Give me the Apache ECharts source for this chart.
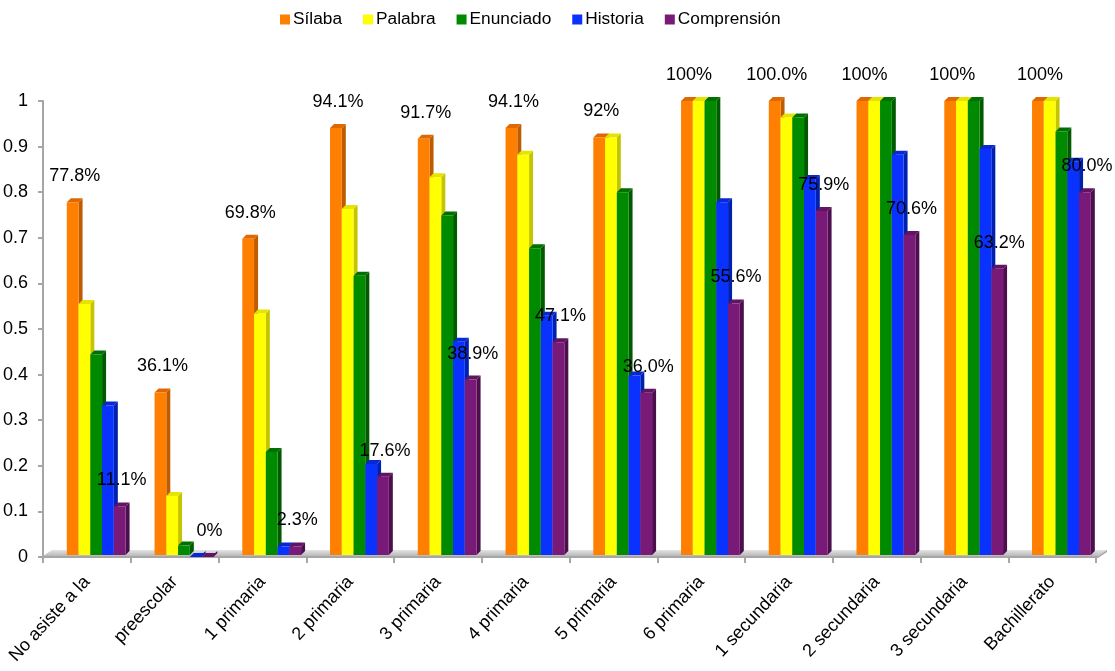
<!DOCTYPE html>
<html>
<head>
<meta charset="utf-8">
<script src="https://cdn.jsdelivr.net/npm/echarts@6/dist/echarts.min.js"></script>
<style>
html,body{margin:0;padding:0;background:#fff;}
#chart{width:1115px;height:671px;}
</style>
</head>
<body>
<div id="chart"></div>
<script>
const categories = ['No asiste a la','preescolar','1 primaria','2 primaria','3 primaria','4 primaria','5 primaria','6 primaria','1 secundaria','2 secundaria','3 secundaria','Bachillerato'];
const seriesNames = ['Sílaba','Palabra','Enunciado','Historia','Comprensión'];
const silaba      = [0.778,0.361,0.698,0.941,0.917,0.941,0.920,1.000,1.000,1.000,1.000,1.000];
const palabra     = [0.555,0.134,0.534,0.763,0.833,0.882,0.920,1.000,0.964,1.000,1.000,1.000];
const enunciado   = [0.444,0.025,0.230,0.617,0.749,0.677,0.800,1.000,0.964,1.000,1.000,0.933];
const historia    = [0.332,0.000,0.023,0.204,0.472,0.529,0.398,0.778,0.829,0.882,0.895,0.867];
const comprension = [0.111,0.000,0.023,0.176,0.389,0.471,0.360,0.556,0.759,0.706,0.632,0.800];
const silabaLabels      = ['77.8%','36.1%','69.8%','94.1%','91.7%','94.1%','92%','100%','100.0%','100%','100%','100%'];
const comprensionLabels = ['11.1%','0%','2.3%','17.6%','38.9%','47.1%','36.0%','55.6%','75.9%','70.6%','63.2%','80.0%'];
const yTicks = [0,0.1,0.2,0.3,0.4,0.5,0.6,0.7,0.8,0.9,1];

const frontColors = ['#FF7F00','#FFFF00','#008A00','#0A32FF','#7A1A78'];
const sideColors  = ['#C05C00','#C4C400','#005A00','#0020B0','#4C0E4C'];
const capColors   = ['#E06800','#E4E400','#007000','#0828D8','#621462'];

const FONT = '"Liberation Sans", Arial, sans-serif';

function makeRender(s, labels) {
  return function (params, api) {
    const idx = api.value(0);
    const v = api.value(1);
    const top = api.coord([idx, v]);
    const base = api.coord([idx, 0]);
    const bw = api.size([1, 0])[0];
    const w = bw * 0.134;
    const left = base[0] - bw * 0.229 + s * w;
    const dx = 4, dy = 4;
    const yTop = top[1];
    const yBot = base[1] - 2;
    const children = [
      {type: 'polygon', shape: {points: [[left + w, yTop], [left + w + dx, yTop - dy], [left + w + dx, yBot - dy], [left + w, yBot]]}, style: {fill: sideColors[s]}},
      {type: 'polygon', shape: {points: [[left, yTop], [left + dx, yTop - dy], [left + w + dx, yTop - dy], [left + w, yTop]]}, style: {fill: capColors[s]}},
      {type: 'rect', shape: {x: left, y: yTop, width: w, height: Math.max(0, yBot - yTop)}, style: {fill: frontColors[s]}}
    ];
    if (labels) {
      children.push({
        type: 'text', z2: 100,
        style: {text: labels[idx], x: left + w / 2 + 2, y: yTop - 26, align: 'center', verticalAlign: 'middle', fontSize: 18, fontFamily: FONT, fill: '#000'}
      });
    }
    return {type: 'group', children: children};
  };
}

const valueSets = [silaba, palabra, enunciado, historia, comprension];
const labelSets = [silabaLabels, null, null, null, comprensionLabels];

const series = [{
  type: 'custom', name: 'floor', silent: true,
  data: [[0, 0]],
  renderItem: function (params, api) {
    const cs = params.coordSys;
    const yb = cs.y + cs.height;
    const x0 = cs.x, x1 = cs.x + cs.width;
    return {type: 'group', children: [
      {type: 'polygon', shape: {points: [[x0, yb - 1], [x0 + 9, yb - 7], [x1 + 11, yb - 7], [x1 + 2, yb - 1]]},
       style: {fill: new echarts.graphic.LinearGradient(0, 0, 0, 1, [{offset: 0, color: '#e4e4e4'}, {offset: 1, color: '#b8b8b8'}])}},
      {type: 'polygon', shape: {points: [[x0, yb - 1], [x1 + 2, yb - 1], [x1 + 2, yb + 1], [x0, yb + 1]]}, style: {fill: '#a6a6a6'}},
      {type: 'polygon', shape: {points: [[x1 + 2, yb - 1], [x1 + 11, yb - 7], [x1 + 11, yb - 5], [x1 + 2, yb + 1]]}, style: {fill: '#a6a6a6'}}
    ]};
  }
}];
valueSets.forEach(function (vals, s) {
  series.push({
    type: 'custom',
    name: seriesNames[s],
    itemStyle: {color: frontColors[s]},
    encode: {x: 0, y: 1},
    data: vals.map(function (v, i) { return [i, v]; }),
    renderItem: makeRender(s, labelSets[s])
  });
});

const chart = echarts.init(document.getElementById('chart'));
chart.setOption({
  animation: false,
  backgroundColor: '#fff',
  legend: {
    data: seriesNames,
    left: 275, top: 6,
    icon: 'rect', itemWidth: 10, itemHeight: 10, itemGap: 21,
    textStyle: {fontSize: 17.3, fontFamily: FONT, color: '#000', padding: [0, 0, 0, -2]}
  },
  grid: {left: 43, right: 19, top: 101, bottom: 114},
  xAxis: {
    type: 'category',
    data: categories,
    boundaryGap: true,
    axisLine: {lineStyle: {color: '#a6a6a6', width: 2}},
    axisTick: {show: true, length: 6, lineStyle: {color: '#a6a6a6', width: 2}},
    axisLabel: {rotate: 47, interval: 0, margin: 22, fontSize: 18, fontFamily: FONT, color: '#000'}
  },
  yAxis: {
    type: 'value', min: 0, max: 1, interval: 0.1,
    splitLine: {show: false},
    axisLine: {show: true, lineStyle: {color: '#a6a6a6', width: 2}},
    axisTick: {show: true, length: 5, lineStyle: {color: '#a6a6a6', width: 2}},
    axisLabel: {
      margin: 15, fontSize: 18, fontFamily: FONT, color: '#000',
      formatter: function (v) {
        let best = yTicks[0];
        yTicks.forEach(function (t) { if (Math.abs(t - v) < Math.abs(best - v)) best = t; });
        return String(best);
      }
    }
  },
  series: series
});
</script>
</body>
</html>
